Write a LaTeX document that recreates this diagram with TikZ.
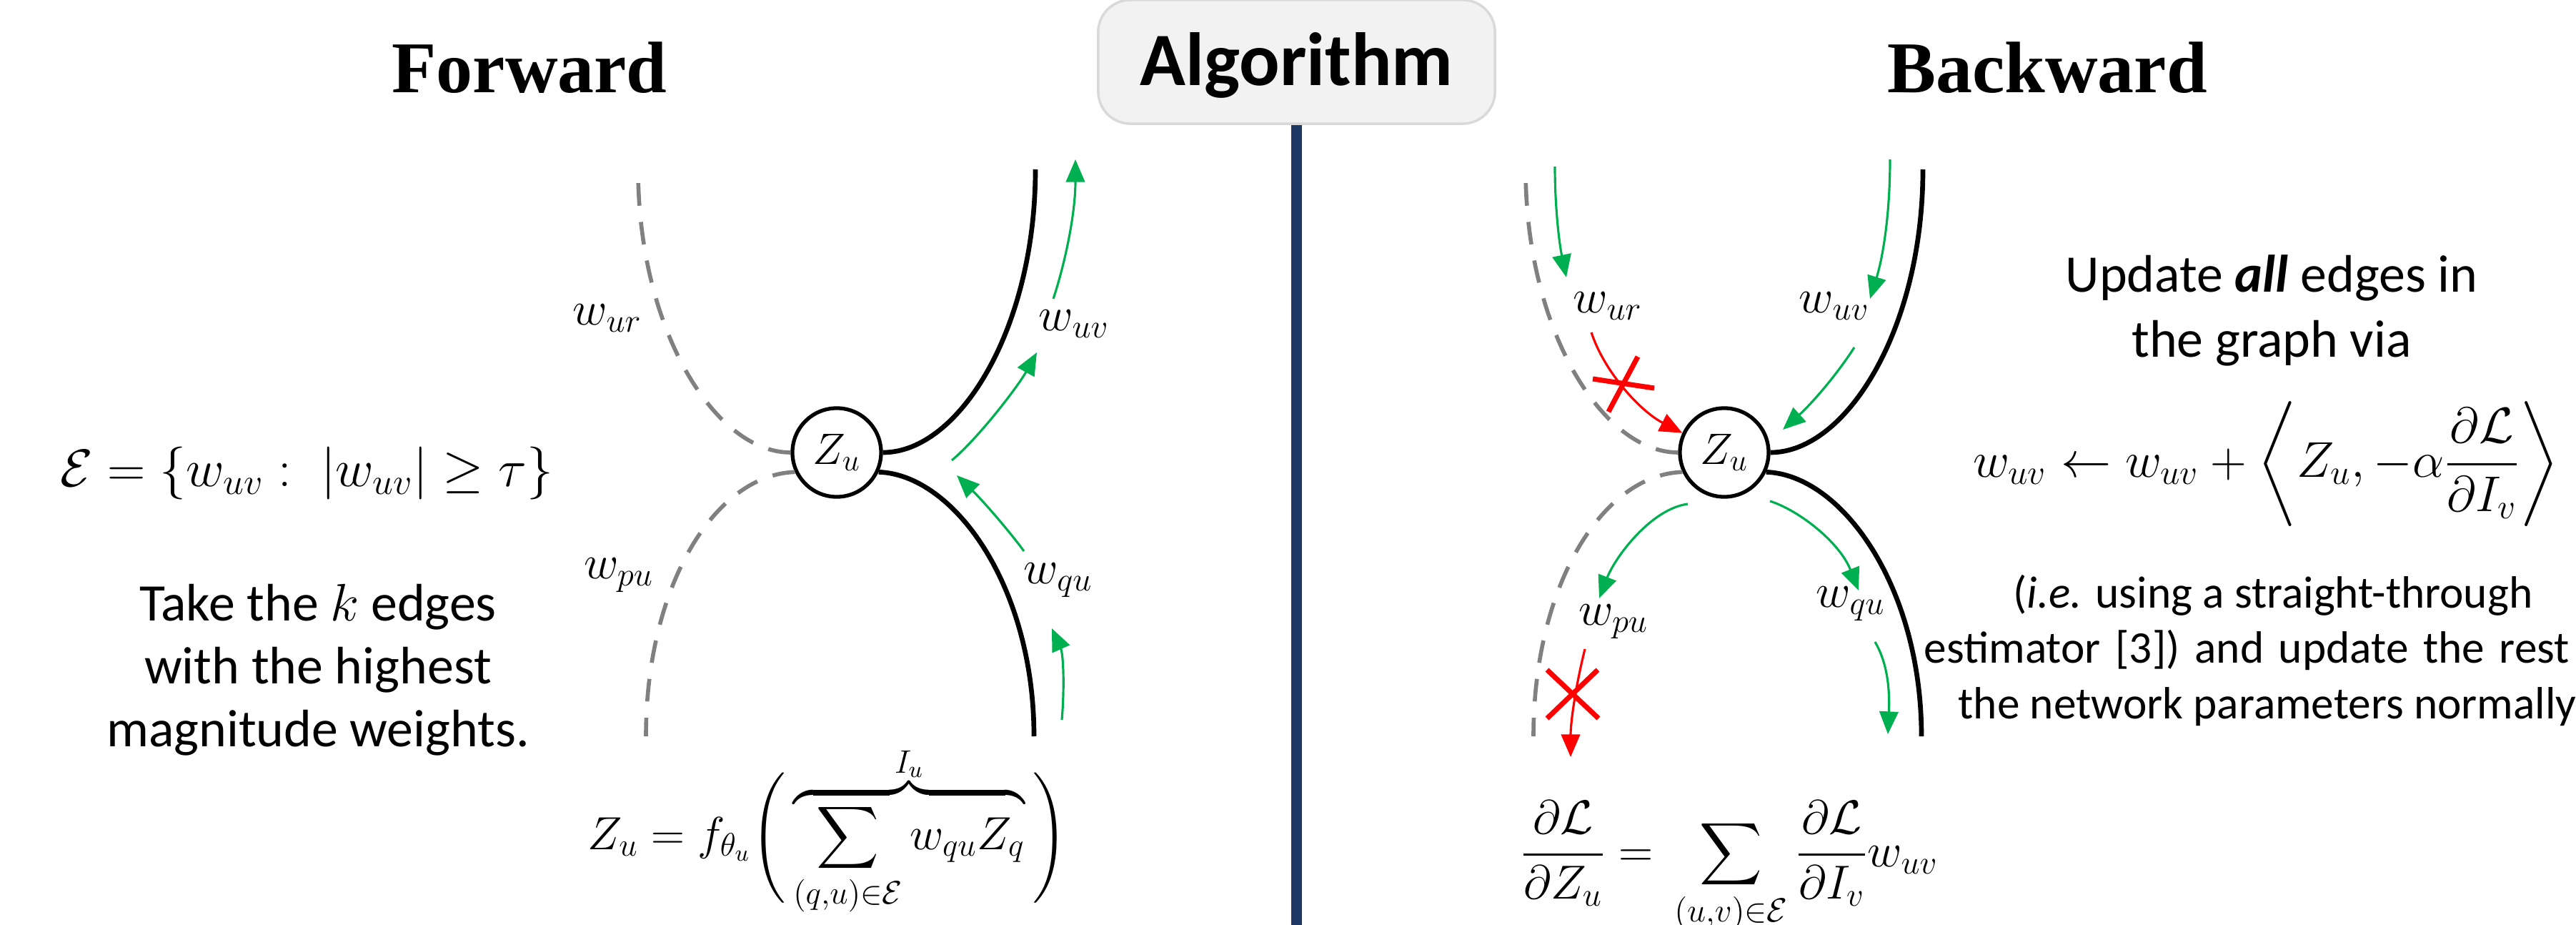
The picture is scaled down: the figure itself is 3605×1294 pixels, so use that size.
\RequirePackage{fix-cm}
\documentclass[tikz,border=0pt]{standalone}
\usepackage{amsmath}
\usepackage[no-math]{fontspec}
\setmainfont{Carlito}
\newfontfamily\headfont{Liberation Serif}
\usetikzlibrary{arrows.meta}
\definecolor{fgreen}{RGB}{0,176,80}
\definecolor{navyline}{RGB}{32,56,100}
\definecolor{boxfill}{RGB}{242,242,242}
\definecolor{boxline}{RGB}{217,217,217}
\definecolor{dgray}{RGB}{128,128,128}
\tikzset{
  edgeblack/.style={line width=1.9pt, black},
  edgedash/.style={line width=1.6pt, dgray, dash pattern=on 9pt off 6.5pt},
  garrow/.style={fgreen, line width=0.9pt, -{Triangle[length=9pt,width=7.5pt]}},
  rarrow/.style={red, line width=0.9pt, -{Triangle[length=9pt,width=7.5pt]}},
  xmark/.style={red, line width=2pt},
  zn/.style={circle, draw, line width=1.5pt, minimum size=1.24cm, inner sep=0pt, font=\fontsize{17.5}{20}\selectfont},
  lbl/.style={inner sep=0pt, font=\fontsize{19}{22}\selectfont},
  head/.style={font=\headfont\bfseries\fontsize{29}{32}\selectfont, anchor=base, inner sep=0pt},
  algbox/.style={draw=boxline, line width=1pt, fill=boxfill, rounded corners=0.45cm, minimum width=5.55cm, minimum height=1.73cm, inner sep=0pt, font=\bfseries\fontsize{30}{34}\selectfont, text height=24pt, text depth=5pt},
  mathf/.style={inner sep=0pt, anchor=base, font=\fontsize{21}{25}\selectfont},
  mathr/.style={inner sep=0pt, anchor=base, font=\fontsize{20}{24}\selectfont},
  mathb/.style={inner sep=0pt, anchor=base, font=\fontsize{18.5}{22}\selectfont},
  mathc/.style={inner sep=0pt, anchor=base, font=\fontsize{19}{23}\selectfont},
  txtl/.style={inner sep=0pt, anchor=base, align=center, font=\fontsize{21}{25}\selectfont},
  txtu/.style={inner sep=0pt, anchor=base, align=center, font=\fontsize{21}{25.6}\selectfont},
  txts/.style={inner sep=0pt, anchor=base, align=center, font=\fontsize{18}{21.9}\selectfont},
}
\begin{document}
\begin{tikzpicture}[x=0.01cm,y=-0.01cm]
\useasboundingbox (0,0) rectangle (3605,1294);

% titles
\node[head] (fwd) at (741,130) {Forward};
\node[head] (bwd) at (2865,130) {Backward};
\coordinate (vbot) at (1814.5,1294);
\node[algbox] (alg) at (1814.5,86.5) {Algorithm};
\draw[navyline, line width=4.3pt] (alg.south) -- (vbot);

% ---------------- Forward ----------------
\node[zn] (ZF) at (1171,633) {$Z_u$};
\coordinate (fTR) at (1449,237);
\coordinate (fBR) at (1447,1030);
\coordinate (fTL) at (893,237);
\coordinate (fBL) at (904,1030);
\draw[edgeblack] (ZF.east) .. controls (1342,633) and (1449,460) .. (fTR);
\draw[edgeblack] (ZF.-25) .. controls (1335,664) and (1447,820) .. (fBR);
\draw[edgedash] (ZF.west) .. controls (1000,633) and (893,460) .. (fTL);
\draw[edgedash] (ZF.205) .. controls (1000,664) and (904,820) .. (fBL);

\node[lbl] (fwur) at (850,445) {$w_{ur}$};
\node[lbl] (fwuv) at (1503,453) {$w_{uv}$};
\node[lbl] (fwpu) at (866,805) {$w_{pu}$};
\node[lbl] (fwqu) at (1481,812) {$w_{qu}$};

\coordinate (g1s) at (1332,644);  \coordinate (g1e) at (1451,493);
\coordinate (g2s) at (1474,418);  \coordinate (g2e) at (1505,223);
\coordinate (g3s) at (1433,771);  \coordinate (g3e) at (1339,665);
\coordinate (g4s) at (1486,1007); \coordinate (g4e) at (1472,879);
\draw[garrow] (g1s) .. controls (1370,612) and (1425,540) .. (g1e);
\draw[garrow] (g2s) .. controls (1490,370) and (1505,300) .. (g2e);
\draw[garrow] (g3s) .. controls (1410,740) and (1375,700) .. (g3e);
\draw[garrow] (g4s) .. controls (1490,960) and (1488,915) .. (g4e);

\node[mathf] (epsf) at (429,680) {$\mathcal{E}=\{w_{uv} :\; |w_{uv}|\geq\tau\}$};
\node[txtl] (taketxt) at (445,1044) {Take the $k$ edges\\with the highest\\magnitude weights.};
\node[mathb] (fwdf) at (1158,1188) {$\displaystyle Z_u = f_{\theta_u}\Bigg(\overbrace{\sum_{(q,u)\in\mathcal{E}} w_{qu}Z_q}^{I_u}\Bigg)$};

% ---------------- Backward ----------------
\node[zn] (ZB) at (2413,633) {$Z_u$};
\coordinate (bTR) at (2691,237);
\coordinate (bBR) at (2689,1030);
\coordinate (bTL) at (2135,237);
\coordinate (bBL) at (2146,1030);
\draw[edgeblack] (ZB.east) .. controls (2584,633) and (2691,460) .. (bTR);
\draw[edgeblack] (ZB.-25) .. controls (2577,664) and (2689,820) .. (bBR);
\draw[edgedash] (ZB.west) .. controls (2242,633) and (2135,460) .. (bTL);
\draw[edgedash] (ZB.205) .. controls (2242,664) and (2146,820) .. (bBL);

\node[lbl] (bwur) at (2250,428) {$w_{ur}$};
\node[lbl] (bwuv) at (2567,428) {$w_{uv}$};
\node[lbl] (bwpu) at (2258,870) {$w_{pu}$};
\node[lbl] (bwqu) at (2590,845) {$w_{qu}$};

\coordinate (b1s) at (2176,233);  \coordinate (b1e) at (2192,388);
\coordinate (b2s) at (2645,223);  \coordinate (b2e) at (2617,418);
\coordinate (b3s) at (2595,486);  \coordinate (b3e) at (2495,601);
\coordinate (b4s) at (2362,705);  \coordinate (b4e) at (2238,837);
\coordinate (b5s) at (2477,701);  \coordinate (b5e) at (2601,826);
\coordinate (b6s) at (2624,898);  \coordinate (b6e) at (2642,1027);
\draw[garrow] (b1s) .. controls (2176,290) and (2182,340) .. (b1e);
\draw[garrow] (b2s) .. controls (2645,300) and (2635,360) .. (b2e);
\draw[garrow] (b3s) .. controls (2570,525) and (2535,565) .. (b3e);
\draw[garrow] (b4s) .. controls (2310,712) and (2260,780) .. (b4e);
\draw[garrow] (b5s) .. controls (2520,715) and (2575,760) .. (b5e);
\draw[garrow] (b6s) .. controls (2640,925) and (2645,960) .. (b6e);

\coordinate (r1s) at (2227,465);
\coordinate (r2s) at (2218,908);  \coordinate (r2e) at (2198,1059);
\draw[rarrow] (r1s) .. controls (2245,520) and (2295,575) .. (ZB.155);
\draw[rarrow] (r2s) .. controls (2205,960) and (2198,1010) .. (r2e);
\draw[xmark] (2229,530) -- (2315,543);
\draw[xmark] (2251,576) -- (2292,499);
\draw[xmark] (2165,937) -- (2237,1005);
\draw[xmark] (2165,1005) -- (2236,937);

\node[txtu] (updtxt) at (3179,499) {Update \textbf{\textit{all}} edges in\\the graph via};
\node[mathr] (updf) at (3171,667) {$w_{uv} \leftarrow w_{uv} + \left\langle Z_u, -\alpha\dfrac{\partial\mathcal{L}}{\partial I_v}\right\rangle$};
\node[txts] (ietxt) at (3181,1005) {(\textit{i.e.} using a straight-through\\{\spaceskip=1.45\fontdimen2\font\relax estimator [3]) and update the rest\phantom{ of}}\\the network parameters normally\phantom{.}};
\node[mathc] (bwdf) at (2420,1212) {$\displaystyle\frac{\partial\mathcal{L}}{\partial Z_u} = \,\sum_{(u,v)\in\mathcal{E}}\frac{\partial\mathcal{L}}{\partial I_v}w_{uv}$};
\end{tikzpicture}
\end{document}
